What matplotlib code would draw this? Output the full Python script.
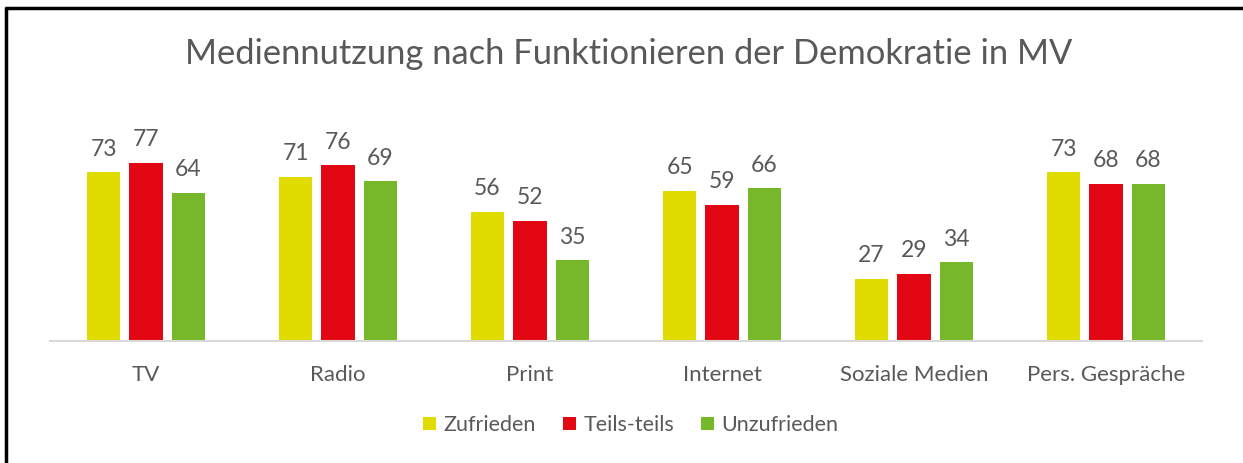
import matplotlib
matplotlib.use("Agg")
import matplotlib.pyplot as plt
import numpy as np
from matplotlib.lines import Line2D
from matplotlib.patches import Patch

categories = ["TV", "Radio", "Print", "Internet", "Soziale Medien", "Pers. Gespräche"]
series_names = ["Zufrieden", "Teils-teils", "Unzufrieden"]
zufrieden = [73, 71, 56, 65, 27, 73]
teils_teils = [77, 76, 52, 59, 29, 68]
unzufrieden = [64, 69, 35, 66, 34, 68]
colors = ["#E1DC00", "#E30613", "#76B82A"]

plt.rcParams["font.family"] = ["Lato", "DejaVu Sans"]
text_gray = "#595959"

W, H = 1243, 463
fig = plt.figure(figsize=(W / 100, H / 100), dpi=100)
fig.patch.set_edgecolor("none")
fig.patch.set_linewidth(0)

# plot area in pixel coordinates
left, right, base_y, top_y = 50, 1202, 341, 156
ax = fig.add_axes([left / W, 1 - base_y / H, (right - left) / W, (base_y - top_y) / H])

x = np.arange(len(categories))
bw = 0.172
step = 0.221
for i, (vals, col) in enumerate(zip([zufrieden, teils_teils, unzufrieden], colors)):
    bars = ax.bar(x + (i - 1) * step, vals, width=bw, color=col, label=series_names[i])
    for b, v in zip(bars, vals):
        ax.annotate(f"{v}", (b.get_x() + b.get_width() / 2, v), xytext=(0, 9),
                    textcoords="offset points", ha="center", va="bottom",
                    fontsize=16.5, color=text_gray, annotation_clip=False)

ax.set_xlim(-0.5, len(categories) - 0.5)
ax.set_ylim(0, 80)
for s in ["top", "right", "left"]:
    ax.spines[s].set_visible(False)
ax.spines["bottom"].set_color("#D9D9D9")
ax.spines["bottom"].set_linewidth(1.5)
ax.set_yticks([])
ax.set_xticks(x)
ax.set_xticklabels(categories, fontsize=16, color=text_gray)
ax.tick_params(axis="x", length=0, pad=17)

fig.text(629 / W, 1 - 54 / H, "Mediennutzung nach Funktionieren der Demokratie in MV",
         ha="center", va="center", fontsize=24.8, color=text_gray)

handles = [Patch(facecolor=c, edgecolor="none") for c in colors]
fig.legend(handles, series_names, loc="center", bbox_to_anchor=(631 / W, 1 - 425 / H),
           ncol=3, frameon=False, fontsize=15.5, labelcolor=text_gray,
           handlelength=0.6, handleheight=0.6, handletextpad=0.35, columnspacing=1.25)

# frame lines along the left and top edge
fig.add_artist(Line2D([6 / W, 6 / W], [-0.05, 1 - 7 / H], transform=fig.transFigure,
                      color="black", lw=2.5, solid_capstyle="butt"))
fig.add_artist(Line2D([5 / W, 1.05], [1 - 8 / H, 1 - 8 / H], transform=fig.transFigure,
                      color="black", lw=2.5, solid_capstyle="butt"))

fig.savefig("out.png", dpi=100, facecolor="white", edgecolor="none")
